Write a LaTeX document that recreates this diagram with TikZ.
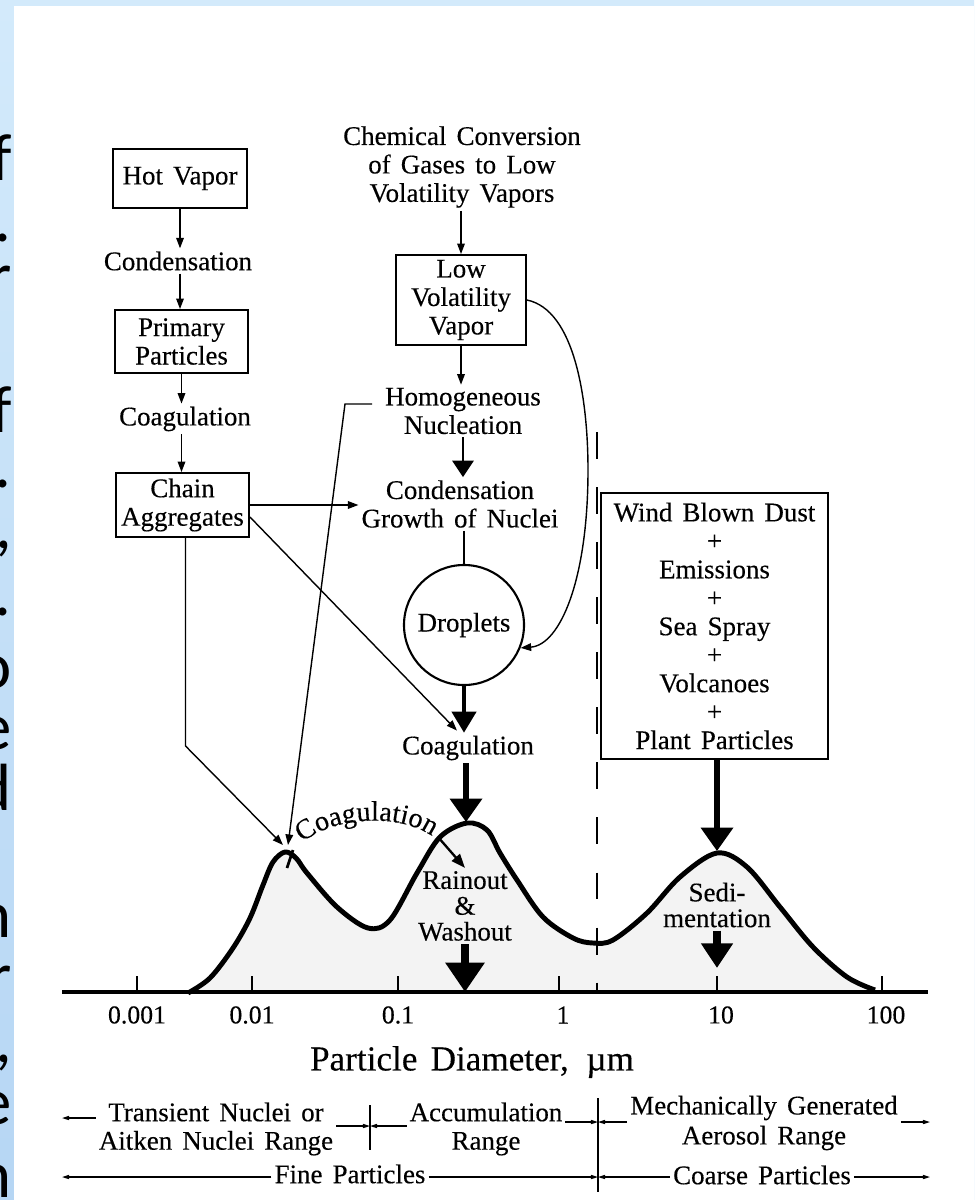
\documentclass[tikz,border=0pt]{standalone}
\usepackage{fontspec}
\setmainfont{Liberation Serif}[WordSpace=1.5,FakeBold=0.3]
\newfontfamily\slidefont{Carlito}
\usetikzlibrary{arrows.meta,calc,decorations.text}
\newcommand\lblfont{\fontsize{23}{24.3}\selectfont}
\newcommand\rainfont{\fontsize{23}{22}\selectfont}
\newcommand\tickfont{\fontsize{22}{22}\selectfont}
\newcommand\coagfont{\fontsize{24}{24}\selectfont}
\newcommand\bigslide{\slidefont\fontsize{57}{57}\selectfont}
\definecolor{blueA}{HTML}{D3EAFB}
\definecolor{blueM}{HTML}{D0E8FB}
\definecolor{blueB}{HTML}{B6D6F4}
\definecolor{curvefill}{HTML}{F3F3F3}
\begin{document}
\begin{tikzpicture}[x=0.03cm,y=-0.03cm,
  box/.style={draw, line width=1.6pt, inner sep=0pt, align=center, font=\lblfont},
  txt/.style={inner sep=2.5pt, align=center, font=\lblfont},
  tick/.style={inner sep=1pt, font=\tickfont},
  slide/.style={anchor=base east, inner sep=0pt, font=\bigslide},
  tarr/.style={line width=1.2pt, -{Triangle[length=9pt,width=6.5pt]}},
  rarr/.style={line width=1pt, -{Triangle[length=6pt,width=3.5pt]}},
  fatA/.style={line width=2.2pt, -{Triangle[length=14pt,width=18pt]}},
  fatB/.style={line width=2.6pt, -{Triangle[length=18pt,width=21pt]}},
  fatC/.style={line width=4.3pt, -{Triangle[length=20pt,width=27pt]}},
  fatD/.style={line width=7pt, -{Triangle[length=25pt,width=32pt]}},
  fatE/.style={line width=6pt, -{Triangle[length=21pt,width=26pt]}}]
\useasboundingbox (0,0) rectangle (974,1200);
% slide frame
\shade[top color=blueA, middle color=blueM, bottom color=blueB] (0,0) rectangle (974,1200);
\fill[white] (14,6) rectangle (974,1200);
\node[slide] (sl1) at (12,180) {f};
\node[slide] (sl2) at (12,241) {.};
\node[slide] (sl3) at (12,298) {r};
\node[slide] (sl4) at (12,432) {f};
\node[slide] (sl5) at (12,487) {.};
\node[slide] (sl6) at (12,548) {,};
\node[slide] (sl7) at (12,615) {.};
\node[slide] (sl8) at (12,688) {o};
\node[slide] (sl9) at (12,749) {e};
\node[slide] (sl10) at (12,810) {d};
\node[slide] (sl11) at (12,937) {n};
\node[slide] (sl12) at (12,998) {r};
\node[slide] (sl13) at (12,1062) {,};
\node[slide] (sl14) at (12,1124) {e};
\node[slide] (sl15) at (12,1197) {n};

% distribution curve
\fill[curvefill] plot[smooth, tension=0.55] coordinates {(188,993) (210,978) (233,948) (250,918) (263,885) (273,862) (285,852) (296,858) (307,873) (337,907) (368,928) (390,920) (417,873) (440,837) (467,823) (487,830) (500,853) (517,880) (543,917) (573,938) (593,943) (613,940) (647,913) (680,877) (717,853) (747,867) (780,907) (813,947) (847,977) (875,990)} -- cycle;
\draw[line width=4.2pt, line join=round] plot[smooth, tension=0.55] coordinates {(188,993) (210,978) (233,948) (250,918) (263,885) (273,862) (285,852) (296,858) (307,873) (337,907) (368,928) (390,920) (417,873) (440,837) (467,823) (487,830) (500,853) (517,880) (543,917) (573,938) (593,943) (613,940) (647,913) (680,877) (717,853) (747,867) (780,907) (813,947) (847,977) (875,990)};

% axis
\coordinate (axL) at (62,992);
\coordinate (axR) at (928,992);
\draw[line width=3.2pt] (axL) -- (axR);
\foreach \xx in {137,252,398,559,717,882} \draw[line width=1.5pt] (\xx,976) -- (\xx,992);
\node[tick] (t1) at (137,1015) {0.001};
\node[tick] (t2) at (252,1015) {0.01};
\node[tick] (t3) at (398,1015) {0.1};
\node[tick] (t4) at (563,1015) {1};
\node[tick] (t5) at (721,1015) {10};
\node[tick] (t6) at (886,1015) {100};
\node[font=\fontsize{30}{30}\selectfont, inner sep=2pt] (xlab) at (472,1062) {Particle Diameter,\hspace{0.5em}µm};

% dashed separator
\coordinate (dtop) at (597,432);
\coordinate (dbot) at (597,992);
\draw[line width=1.5pt, dash pattern=on 23pt off 24pt] (dtop) -- (dbot);

% left column
\node[box, minimum width=4.02cm, minimum height=1.77cm] (hot) at (180,178.5) {Hot Vapor};
\node[txt] (cond1) at (178,261) {Condensation};
\node[box, minimum width=3.99cm, minimum height=1.89cm] (prim) at (181.5,341.5) {Primary\\Particles};
\node[txt] (coag1) at (185,419) {Coagulation};
\node[box, minimum width=3.99cm, minimum height=1.92cm] (chain) at (182.5,505) {Chain\\Aggregates};
\draw[tarr] (hot.south) -- (hot.south |- cond1.north);
\draw[tarr] (hot.south |- cond1.south) -- (hot.south |- prim.north);
\draw[tarr] (prim.south) -- (prim.south |- coag1.north);
\draw[tarr] (prim.south |- coag1.south) -- (prim.south |- chain.north);

% middle column
\node[txt] (chem) at (462,167) {Chemical Conversion\\of Gases to Low\\Volatility Vapors};
\node[box, minimum width=3.9cm, minimum height=2.7cm] (lvv) at (461,300) {Low\\Volatility\\Vapor};
\node[txt] (homo) at (463,411) {Homogeneous\\Nucleation};
\node[txt] (cgn) at (460,504) {Condensation\\Growth of Nuclei};
\node[draw, circle, line width=1.8pt, minimum size=3.6cm, inner sep=0pt, font=\lblfont] (drop) at (464,625) {Droplets};
\node[txt] (coag2) at (468,748) {Coagulation};
\draw[tarr] (lvv.north |- chem.south) -- (lvv.north);
\draw[tarr] (lvv.south) -- (lvv.south |- homo.north);
\draw[fatA] (homo.south) -- (homo.south |- cgn.north);
\draw[line width=1.6pt] (drop.north |- cgn.south) -- (drop.north);
\draw[fatB] (drop.south) -- (drop.south |- coag2.north);

% right box
\node[box, minimum width=6.81cm, minimum height=7.98cm] (wind) at (714.5,626) {Wind Blown Dust\\+\\Emissions\\+\\Sea Spray\\+\\Volcanoes\\+\\Plant Particles};

% peaks
\coordinate (p1a) at (283,845);
\coordinate (p1b) at (288,845);
\coordinate (p2) at (466,822);
\coordinate (p3) at (717,851);
\coordinate (sedtip) at (717,968);

\draw[fatC] (p2 |- coag2.south) -- (p2);
\draw[fatC] (p3 |- wind.south) -- (p3);

% connectors from chain aggregates
\draw[tarr] (chain.east) -- (chain.east -| cgn.west);
\draw[tarr] ($(chain.east)+(0,12)$) -- ($(coag2.north)+(-11,-2)$);
\draw[tarr] ($(chain.south)+(3,0)$) -- ++(0,208) -- (p1a);
\coordinate (hl) at ($(homo.west)+(-10,-7)$);
\draw[tarr] (hl) -- ++(-27,0) -- (p1b);

% curved connector
\draw[tarr] (lvv.east) .. controls (575,310) and (588,400) .. (588,470) .. controls (588,580) and (560,645) .. (drop.-22);

% coagulation arc
\draw[line width=2.4pt] (287,868) -- (293,850);
\path[decorate, decoration={text along path, text={|\coagfont|Coagulation}, text align=center}] (297,848) .. controls (325,816) and (405,810) .. (438,841);
\node[txt, font=\rainfont] (rain) at (465,906) {Rainout\\\&\\Washout};
\coordinate (arcend) at (438,837);
\draw[line width=2pt, -{Triangle[length=12pt,width=9pt]}] (arcend) -- (rain.north);
\draw[fatD] (rain.south) -- (rain.south |- axL);
\node[txt, font=\rainfont] (sedi) at (717,905) {Sedi-\\mentation};
\draw[fatE] (sedi.south) -- (sedtip);

% range labels
\node[txt] (trans) at (216,1129) {Transient Nuclei or\\Aitken Nuclei Range};
\node[txt] (accum) at (486,1129) {Accumulation\\Range};
\node[txt, font=\fontsize{23}{25.6}\selectfont] (mech) at (764,1123) {Mechanically Generated\\Aerosol Range};
\node[txt] (fine) at (350,1174) {Fine Particles};
\node[txt] (coarse) at (762,1175) {Coarse Particles};
\coordinate (s1t) at (370,1105);
\coordinate (s1b) at (370,1150);
\coordinate (s2t) at (598,1098);
\coordinate (s2b) at (598,1192);
\draw[line width=1pt] (s1t) -- (s1b);
\draw[line width=1pt] (s2t) -- (s2b);
\coordinate (lend) at (62,0);
\coordinate (rend) at (930,0);
\coordinate (ra) at (0,1118);
\coordinate (rb) at (0,1126);
\coordinate (rc) at (0,1122);
\coordinate (rd) at (0,1177);
\draw[rarr] (trans.west |- ra) -- (lend |- ra);
\draw[rarr] (trans.east |- rb) -- (s1t |- rb);
\draw[rarr] (accum.west |- rb) -- (s1t |- rb);
\draw[rarr] (accum.east |- rc) -- (s2t |- rc);
\draw[rarr] (mech.west |- rc) -- (s2t |- rc);
\draw[rarr] (mech.east |- rc) -- (rend |- rc);
\draw[rarr] (fine.west |- rd) -- (lend |- rd);
\draw[rarr] (fine.east |- rd) -- (s2t |- rd);
\draw[rarr] (coarse.west |- rd) -- (s2t |- rd);
\draw[rarr] (coarse.east |- rd) -- (rend |- rd);
\end{tikzpicture}
\end{document}
